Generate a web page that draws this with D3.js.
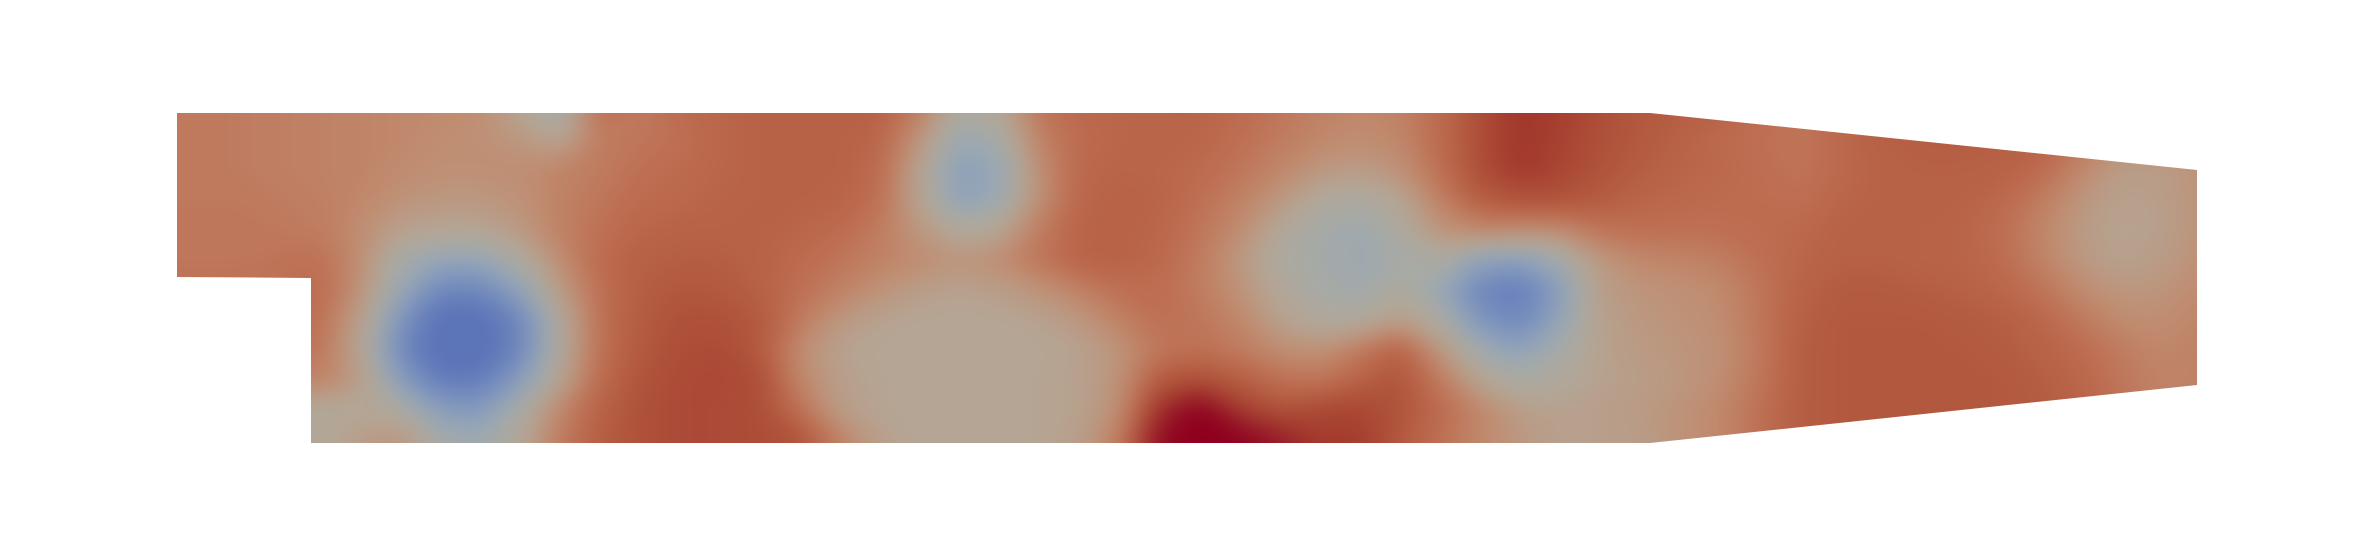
<!DOCTYPE html>
<html><head><meta charset="utf-8">
<script src="https://cdn.jsdelivr.net/npm/d3@7"></script>
<style>html,body{margin:0;padding:0;background:#fff}svg{display:block}</style>
</head><body><svg id="c" width="2374" height="556"></svg>
<script>
// Domain outline, in domain units
const outlineX = [0, 1473, 2020, 2020, 1473, 134, 134, 0];
const outlineY = [0, 0, 57, 272, 330, 330, 165, 164];
// Sample positions of the field, in domain units
const gridX = d3.range(52).map(i => -17 + i * 40);
const gridY = d3.range(12).map(j => -3 + j * 30);
// Field values, one array per row
const row00 = [56,56,56,55,54,53,52,51,50,40,26,62,56,62,64,66,66,66,66,55,34,38,58,63,64,65,65,62,58,54,52,54,62,74,82,79,74,70,68,66,62,58,62,66,68,68,68,66,60,54,52,52];
const row01 = [56,56,56,55,54,53,52,50,49,46,40,56,58,60,64,66,66,66,64,46,24,30,54,62,64,64,64,60,56,52,50,52,62,74,82,78,73,70,66,62,60,58,63,67,68,68,68,66,58,50,48,50];
const row02 = [56,56,56,55,54,53,51,49,49,50,53,56,60,62,64,66,66,66,62,40,18,24,50,63,65,64,62,58,52,46,44,48,60,74,81,77,72,68,65,63,61,58,63,66,67,67,66,62,52,44,44,48];
const row03 = [57,57,57,56,55,52,48,46,46,48,54,58,62,63,65,66,66,65,60,40,20,26,50,64,66,65,60,54,46,36,33,40,54,68,72,72,69,65,63,62,61,60,64,66,66,66,63,56,47,42,43,48];
const row04 = [57,57,57,57,56,50,42,40,40,45,54,60,64,66,66,66,64,62,56,46,36,40,56,65,66,64,58,50,38,30,26,34,48,52,50,50,58,60,60,60,61,63,66,66,66,65,61,53,45,41,43,48];
const row05 = [58,58,58,59,60,50,30,22,22,34,50,62,67,68,68,66,62,58,54,50,47,50,58,65,66,63,56,46,34,29,26,30,34,20,18,28,46,52,53,55,60,64,67,67,66,65,62,54,46,42,44,49];
const row06 = [58,58,58,60,62,48,24,8,8,20,44,60,68,71,70,67,60,54,48,44,42,44,48,54,60,61,56,48,38,30,28,36,24,8,4,18,44,47,49,51,58,66,69,69,68,67,64,59,51,46,47,51];
const row07 = [60,60,60,60,60,42,14,-2,-2,8,36,60,69,73,73,70,56,46,42,40,40,40,42,46,54,60,58,52,42,36,36,44,34,14,8,22,42,46,48,50,58,67,70,70,70,69,68,64,57,51,50,53];
const row08 = [62,62,62,60,58,40,10,-4,-4,8,36,60,70,74,75,70,50,42,40,40,40,40,40,42,48,58,60,56,50,48,56,66,46,28,20,30,42,45,47,49,57,68,70,70,70,70,69,66,62,56,52,54];
const row09 = [58,56,54,52,54,44,18,4,4,18,40,62,72,75,76,74,52,43,41,40,40,40,41,42,48,70,74,68,60,58,66,72,56,40,32,36,42,44,46,50,58,68,70,70,70,70,70,68,64,58,53,54];
const row10 = [50,48,46,40,36,40,34,18,16,32,52,66,73,75,75,74,60,44,41,40,40,40,41,42,50,84,100,80,72,76,77,72,62,52,44,42,43,45,48,52,60,68,70,70,70,70,70,69,66,60,54,54];
const row11 = [46,46,46,40,38,44,48,30,26,38,56,68,73,75,75,74,72,54,43,40,40,40,41,43,56,96,106,100,90,80,80,70,60,52,46,42,43,44,48,52,60,68,70,70,70,70,70,69,66,60,54,54];
const fieldRows = [row00,row01,row02,row03,row04,row05,row06,row07,row08,row09,row10,row11];
// Colour map stops (field value -> colour)
const colorValues = [0,12,22,30,40,50,60,70,80,90,100];
const colorStops = ["#5c74b8","#7a92be","#95a6b8","#a7aaa5","#b5a594","#c08c70","#be6e52","#b2583e","#a33a2d","#96192a","#8f001e"];

const width = 2374, height = 556, pad = 3;
const svg = d3.select("#c");
const xScale = d3.scaleLinear().domain([0, 2020]).range([177, 2197]);
const yScale = d3.scaleLinear().domain([0, 330]).range([113, 443]);
const color = d3.scaleLinear().domain(colorValues).range(colorStops).clamp(true);

// Flatten with clamped padding so contours run past the outline
const nx = gridX.length, ny = gridY.length, W = nx + 2 * pad, H = ny + 2 * pad;
const flat = [];
for (let j = 0; j < H; j++) for (let i = 0; i < W; i++) {
  flat.push(fieldRows[Math.max(0, Math.min(ny - 1, j - pad))][Math.max(0, Math.min(nx - 1, i - pad))]);
}
const ci = d3.scaleLinear().domain([pad + 0.5, pad + nx - 0.5]).range([gridX[0], gridX[nx - 1]]);
const cj = d3.scaleLinear().domain([pad + 0.5, pad + ny - 0.5]).range([gridY[0], gridY[ny - 1]]);
const path = d3.geoPath(d3.geoTransform({
  point(x, y) { this.stream.point(xScale(ci(x)), yScale(cj(y))); }
}));
const thresholds = d3.range(-10, 106, 1);
const contours = d3.contours().size([W, H]).thresholds(thresholds).smooth(true)(flat);

const defs = svg.append("defs");
const outline = d3.line().x(d => xScale(d[0])).y(d => yScale(d[1])).curve(d3.curveLinearClosed);
defs.append("clipPath").attr("id", "shape").append("path")
  .attr("d", outline(d3.zip(outlineX, outlineY)));
const f = defs.append("filter").attr("id", "soft").attr("filterUnits", "userSpaceOnUse")
  .attr("x", 0).attr("y", 0).attr("width", width).attr("height", height)
  .attr("color-interpolation-filters", "sRGB");
f.append("feGaussianBlur").attr("stdDeviation", "13 9");

const field = svg.append("g").attr("clip-path", "url(#shape)").append("g").attr("filter", "url(#soft)");
field.append("rect").attr("x", xScale(-120)).attr("y", yScale(-90)).attr("width", 2300).attr("height", 520)
  .attr("fill", color(-10));
field.selectAll("path").data(contours).join("path")
  .attr("d", path).attr("fill", d => color(d.value));
</script></body></html>
